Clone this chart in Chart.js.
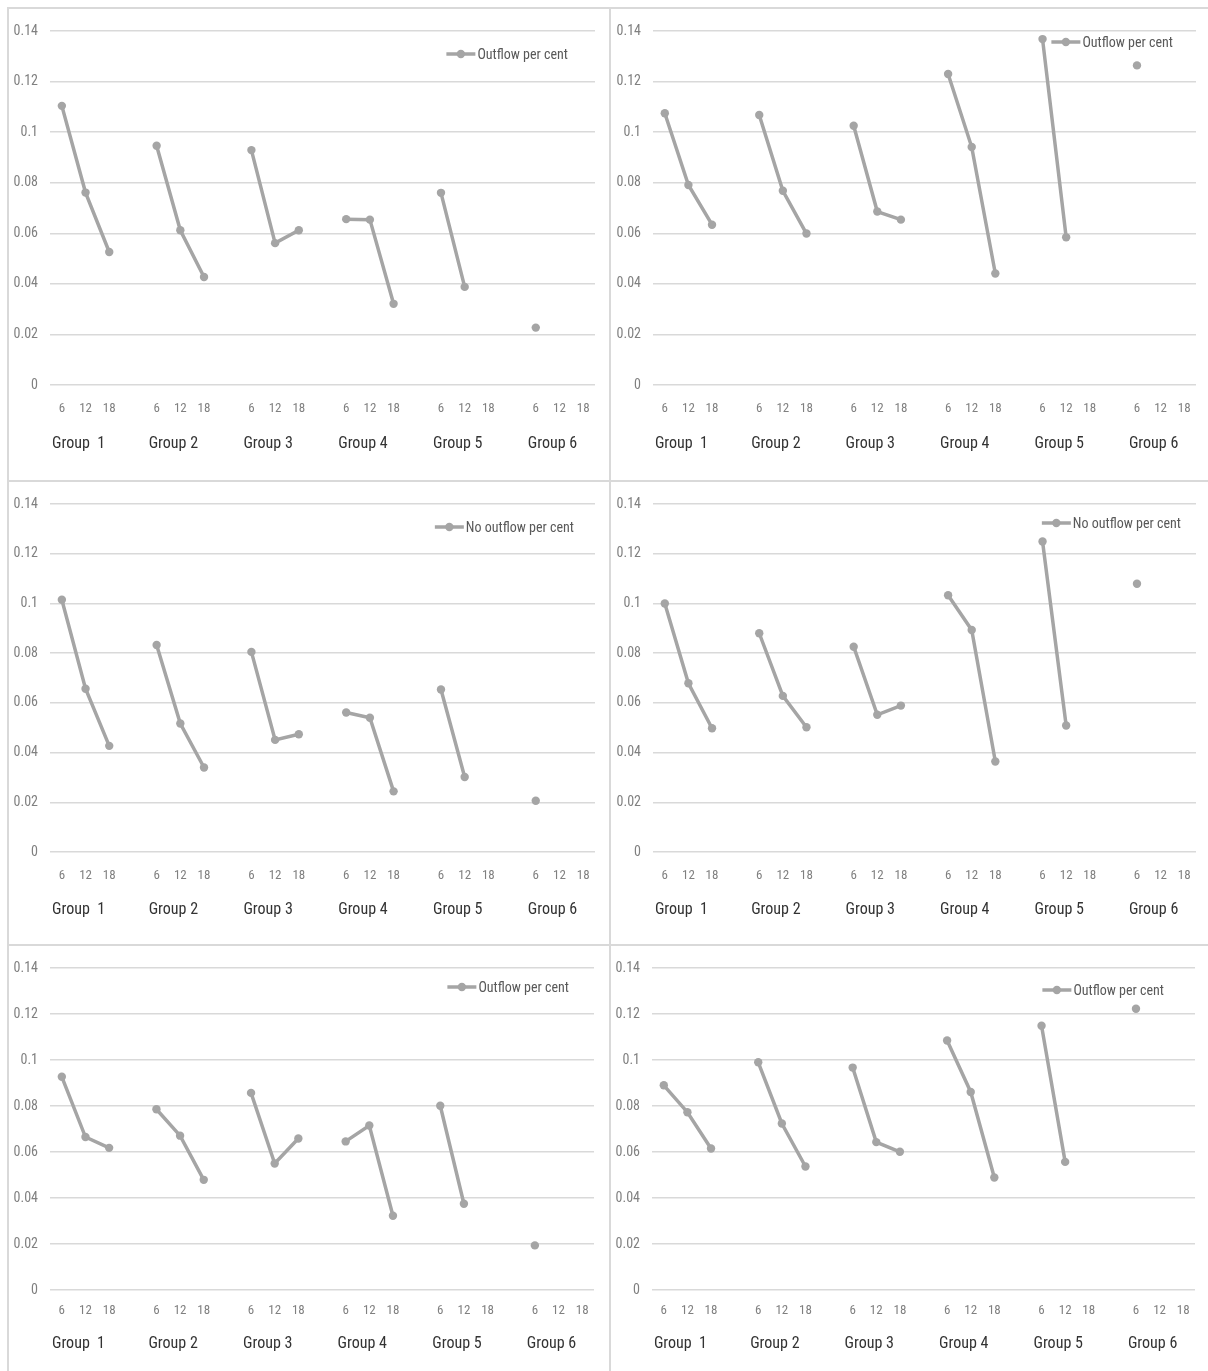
<!DOCTYPE html>
<html>
<head>
<meta charset="utf-8">
<script src="https://cdn.jsdelivr.net/npm/chart.js@4.4.1/dist/chart.umd.min.js"></script>
<style>
  html, body { margin: 0; padding: 0; background: #ffffff; }
  #wrap { position: relative; width: 1208px; height: 1371px; overflow: hidden; background: #fff; }
  #wrap canvas { position: absolute; }
  .rule { position: absolute; background: #d9d9d9; z-index: 5; }
</style>
</head>
<body>
<div id="wrap"></div>
<script>
// ---------------- DATA ----------------
const monthLabels = ['6', '12', '18'];
const groupNames = ['Group  1', 'Group 2', 'Group 3', 'Group 4', 'Group 5', 'Group 6'];
const yTickValues = [0, 0.02, 0.04, 0.06, 0.08, 0.1, 0.12, 0.14];

const seriesNames = ['Outflow per cent', 'Outflow per cent', 'No outflow per cent', 'No outflow per cent', 'Outflow per cent', 'Outflow per cent'];

// values per group: [6, 12, 18]
const panel1Values = [[0.1104, 0.0761, 0.0526], [0.0946, 0.0612, 0.0427], [0.0929, 0.0561, 0.0612], [0.0656, 0.0654, 0.0321], [0.0760, 0.0388, null], [0.0227, null, null]];
const panel2Values = [[0.1075, 0.0791, 0.0634], [0.1068, 0.0768, 0.0599], [0.1025, 0.0686, 0.0654], [0.1230, 0.0941, 0.0441], [0.1368, 0.0584, null], [0.1264, null, null]];
const panel3Values = [[0.1015, 0.0657, 0.0427], [0.0833, 0.0517, 0.0340], [0.0805, 0.0451, 0.0474], [0.0561, 0.0540, 0.0244], [0.0654, 0.0302, null], [0.0206, null, null]];
const panel4Values = [[0.1000, 0.0679, 0.0498], [0.0880, 0.0628, 0.0502], [0.0826, 0.0552, 0.0589], [0.1033, 0.0893, 0.0364], [0.1249, 0.0509, null], [0.1079, null, null]];
const panel5Values = [[0.0927, 0.0665, 0.0618], [0.0786, 0.0671, 0.0479], [0.0857, 0.0550, 0.0659], [0.0646, 0.0715, 0.0323], [0.0801, 0.0375, null], [0.0194, null, null]];
const panel6Values = [[0.0890, 0.0773, 0.0615], [0.0990, 0.0724, 0.0537], [0.0967, 0.0643, 0.0601], [0.1085, 0.0861, 0.0489], [0.1149, 0.0557, null], [0.1223, null, null]];

// ---------------- BUILD TABLES ----------------
function buildLabels() {
  const l = [], g = [];
  groupNames.forEach((name, gi) => {
    monthLabels.forEach((m, mi) => { l.push(m); g.push(mi === 1 ? name : ''); });
    if (gi < groupNames.length - 1) { l.push(''); g.push(''); }
  });
  return { l, g };
}
function buildData(values) {
  const out = [];
  values.forEach((grp, gi) => {
    grp.forEach(v => out.push(v));
    if (gi < values.length - 1) out.push(null);
  });
  return out;
}
const built = buildLabels();

// ---------------- LAYOUT / STYLE ----------------
const FONT = "'Liberation Sans Narrow', 'Arial Narrow', 'Roboto Condensed', 'DejaVu Sans Condensed', sans-serif";
const GRAY = '#a5a5a5';

const panels = [
  { x: 8,   y: 8,   w: 602, h: 472, pl: 50,  pr: 595,  pt: 31,  pb: 385,  tickY: 409,  groupY: 444,  ldx: 27, ldy: 23, values: panel1Values, name: seriesNames[0] },
  { x: 610, y: 8,   w: 598, h: 472, pl: 653, pr: 1196, pt: 31,  pb: 385,  tickY: 409,  groupY: 444,  ldx: 23, ldy: 11, values: panel2Values, name: seriesNames[1] },
  { x: 8,   y: 481, w: 602, h: 464, pl: 50,  pr: 595,  pt: 504, pb: 852,  tickY: 876,  groupY: 910,  ldx: 21, ldy: 23, values: panel3Values, name: seriesNames[2] },
  { x: 610, y: 481, w: 598, h: 464, pl: 653, pr: 1196, pt: 504, pb: 852,  tickY: 876,  groupY: 910,  ldx: 15, ldy: 19, values: panel4Values, name: seriesNames[3] },
  { x: 8,   y: 946, w: 602, h: 425, pl: 50,  pr: 594,  pt: 968, pb: 1290, tickY: 1311, groupY: 1344, ldx: 25, ldy: 19, values: panel5Values, name: seriesNames[4] },
  { x: 610, y: 946, w: 598, h: 425, pl: 652, pr: 1195, pt: 968, pb: 1290, tickY: 1311, groupY: 1344, ldx: 31, ldy: 22, values: panel6Values, name: seriesNames[5] }
];

const insideLegend = {
  id: 'insideLegend',
  afterDraw(chart, args, opts) {
    const { ctx, chartArea } = chart;
    const ds = chart.data.datasets[0];
    ctx.save();
    ctx.font = opts.font;
    const tw = ctx.measureText(ds.label).width;
    const right = chartArea.right - opts.dx;
    const cy = chartArea.top + opts.dy;
    const textX = right - tw;
    ctx.fillStyle = opts.color;
    ctx.textBaseline = 'middle';
    ctx.textAlign = 'left';
    ctx.fillText(ds.label, textX, cy + 1);
    const x2 = textX - 2, x1 = x2 - 29;
    ctx.strokeStyle = ds.borderColor;
    ctx.lineWidth = ds.borderWidth;
    ctx.beginPath(); ctx.moveTo(x1, cy); ctx.lineTo(x2, cy); ctx.stroke();
    ctx.fillStyle = ds.pointBackgroundColor;
    ctx.beginPath(); ctx.arc((x1 + x2) / 2, cy, ds.pointRadius, 0, Math.PI * 2); ctx.fill();
    ctx.restore();
  }
};

const wrap = document.getElementById('wrap');
const H1 = 32, H2 = 40;
const TICK_SIZE = 13, GROUP_SIZE = 16;

panels.forEach(p => {
  const c = document.createElement('canvas');
  c.width = p.w; c.height = p.h;
  c.style.left = p.x + 'px'; c.style.top = p.y + 'px';
  c.style.width = p.w + 'px'; c.style.height = p.h + 'px';
  wrap.appendChild(c);

  const left = p.pl - p.x, right = p.pr - p.x, top = p.pt - p.y, bottom = p.pb - p.y;
  const tickPad = (p.tickY - p.pb) - TICK_SIZE * 1.2 / 2;
  const groupPad = (p.groupY - p.pb - H1) - GROUP_SIZE * 1.2 / 2;

  new Chart(c, {
    type: 'line',
    data: {
      labels: built.l,
      datasets: [{
        label: p.name,
        data: buildData(p.values),
        borderColor: GRAY,
        backgroundColor: GRAY,
        borderWidth: 3.5,
        pointRadius: 4.2,
        pointBackgroundColor: GRAY,
        pointBorderColor: GRAY,
        pointBorderWidth: 0,
        spanGaps: false,
        tension: 0
      }]
    },
    options: {
      responsive: false,
      animation: false,
      devicePixelRatio: 1,
      layout: { padding: { left: 0, top: top, right: p.w - right, bottom: p.h - bottom - H1 - H2 } },
      plugins: {
        legend: { display: false },
        tooltip: { enabled: false },
        insideLegend: { dx: p.ldx, dy: p.ldy, font: '14px ' + FONT, color: '#595959' }
      },
      scales: {
        y: {
          min: 0, max: 0.14,
          afterFit: s => { s.width = left; },
          afterBuildTicks: s => { s.ticks = yTickValues.map(v => ({ value: v })); },
          border: { display: false },
          grid: { color: '#d9d9d9', lineWidth: 1.5, drawTicks: false },
          ticks: {
            padding: 12,
            color: '#808080',
            font: { family: FONT, size: 14 },
            callback: v => String(parseFloat(Number(v).toFixed(2)))
          }
        },
        x: {
          type: 'category',
          offset: true,
          weight: 0,
          afterFit: s => { s.height = H1; },
          border: { display: false },
          grid: { display: false, drawTicks: false },
          ticks: {
            autoSkip: false, maxRotation: 0, minRotation: 0,
            padding: tickPad,
            color: '#808080',
            font: { family: FONT, size: TICK_SIZE }
          }
        },
        x2: {
          type: 'category',
          position: 'bottom',
          labels: built.g,
          offset: true,
          weight: 1,
          afterFit: s => { s.height = H2; },
          border: { display: false },
          grid: { display: false, drawTicks: false },
          ticks: {
            autoSkip: false, maxRotation: 0, minRotation: 0,
            padding: groupPad,
            labelOffset: -7,
            color: '#333333',
            font: { family: FONT, size: GROUP_SIZE }
          }
        }
      }
    },
    plugins: [insideLegend]
  });
});

// panel frame rules
const rules = [
  { l: 7, t: 7, w: 1201, h: 2 },
  { l: 7, t: 480, w: 1201, h: 2 },
  { l: 7, t: 944, w: 1201, h: 2 },
  { l: 7, t: 7, w: 2, h: 1364 },
  { l: 609, t: 7, w: 2, h: 1364 }
];
rules.forEach(r => {
  const d = document.createElement('div');
  d.className = 'rule';
  d.style.left = r.l + 'px'; d.style.top = r.t + 'px';
  d.style.width = r.w + 'px'; d.style.height = r.h + 'px';
  wrap.appendChild(d);
});
</script>
</body>
</html>
